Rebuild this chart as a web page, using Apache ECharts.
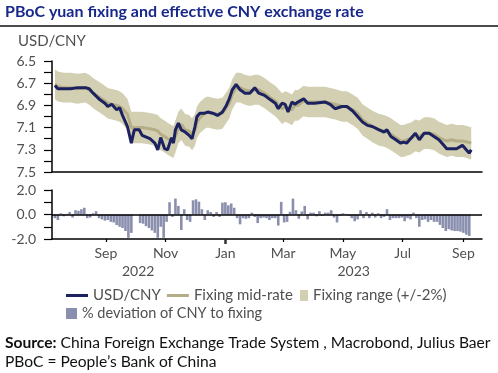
<!DOCTYPE html>
<html>
<head>
<meta charset="utf-8">
<script src="https://cdn.jsdelivr.net/npm/echarts@6/dist/echarts.min.js"></script>
<style>
html,body{margin:0;padding:0;background:#fff;}
#c{width:498px;height:373px;}
</style>
</head>
<body>
<div id="c"></div>
<script>
// ---- data ----
const dates = ['2022-07-11','2022-07-14','2022-07-20','2022-07-27','2022-08-03','2022-08-11','2022-08-15','2022-08-19','2022-08-26','2022-08-31',
'2022-09-03','2022-09-07','2022-09-12','2022-09-15','2022-09-18','2022-09-23','2022-09-27','2022-09-30','2022-10-05','2022-10-08',
'2022-10-16','2022-10-21','2022-10-24','2022-10-27','2022-10-31','2022-11-03','2022-11-07','2022-11-09','2022-11-11','2022-11-14',
'2022-11-17','2022-11-21','2022-11-25','2022-11-28','2022-12-01','2022-12-03','2022-12-06','2022-12-11','2022-12-14','2022-12-19',
'2022-12-24','2022-12-29','2023-01-02','2023-01-05','2023-01-08','2023-01-12','2023-01-16','2023-01-21','2023-01-26','2023-01-31',
'2023-02-04','2023-02-10','2023-02-16','2023-02-21','2023-02-24','2023-02-28','2023-03-03','2023-03-06','2023-03-10','2023-03-13',
'2023-03-16','2023-03-22','2023-03-26','2023-04-02','2023-04-13','2023-04-18','2023-04-23','2023-04-30','2023-05-05','2023-05-11',
'2023-05-16','2023-05-21','2023-05-26','2023-05-31','2023-06-07','2023-06-12','2023-06-15','2023-06-19','2023-06-24','2023-06-29',
'2023-07-02','2023-07-05','2023-07-09','2023-07-14','2023-07-18','2023-07-23','2023-07-28','2023-08-02','2023-08-07','2023-08-12',
'2023-08-15','2023-08-20','2023-08-25','2023-08-31','2023-09-05','2023-09-07','2023-09-09'];

const usdCny = [6.72,6.75,6.75,6.75,6.74,6.74,6.75,6.79,6.85,6.88,
6.91,6.89,6.94,6.92,6.99,7.09,7.24,7.12,7.12,7.17,
7.20,7.24,7.30,7.19,7.29,7.30,7.19,7.24,7.12,7.06,
7.12,7.14,7.17,7.20,7.09,7.00,6.97,6.97,6.96,6.97,
6.99,6.96,6.90,6.84,6.76,6.71,6.76,6.79,6.79,6.74,
6.79,6.81,6.85,6.88,6.93,6.88,6.89,6.96,6.87,6.89,
6.87,6.84,6.88,6.88,6.87,6.89,6.93,6.91,6.91,6.95,
7.00,7.05,7.08,7.09,7.12,7.14,7.12,7.18,7.21,7.24,
7.23,7.24,7.20,7.15,7.21,7.15,7.15,7.18,7.21,7.26,
7.29,7.29,7.29,7.26,7.31,7.33,7.30];

const fixing = [6.71,6.73,6.74,6.74,6.75,6.74,6.76,6.79,6.83,6.86,
6.88,6.89,6.90,6.91,6.93,6.98,7.10,7.10,7.10,7.10,
7.11,7.12,7.13,7.16,7.18,7.20,7.22,7.23,7.18,7.10,
7.07,7.12,7.13,7.16,7.12,7.05,7.01,6.97,6.96,6.97,
6.98,6.97,6.92,6.88,6.80,6.74,6.74,6.76,6.77,6.76,
6.76,6.79,6.83,6.86,6.89,6.93,6.91,6.92,6.94,6.90,
6.90,6.86,6.87,6.87,6.87,6.88,6.89,6.91,6.91,6.94,
6.97,7.03,7.06,7.09,7.12,7.13,7.14,7.16,7.19,7.22,
7.22,7.21,7.20,7.17,7.18,7.15,7.15,7.16,7.19,7.21,
7.22,7.21,7.22,7.22,7.23,7.24,7.24];

const bandPct = 2; // fixing range +/- 2%

// % deviation of CNY to fixing, one value every 3 calendar days from devStart
const devStart = [2022, 6, 11];
const devStepDays = 3;
const deviation = [-0.3,-0.45,0.1,-0.15,0.05,0.2,-0.25,0.35,0.3,0.43,
0.55,-0.3,-0.25,0.1,0.27,-0.3,-0.4,-0.5,-0.45,-0.6,
-0.65,-0.86,-1.0,-1.1,-1.35,-1.9,-1.5,0,0,-0.7,
-0.75,-0.95,-1.1,-1.3,-1.5,-1.9,-1.0,-1.9,-0.6,1.0,
-0.2,1.3,0.7,-1.27,0.43,-0.45,-0.6,1.16,1.24,1.05,
0.43,-0.45,0.35,0.2,-0.2,0.2,-0.2,0.97,1.0,0.75,
0.9,0.55,-0.3,-0.8,-0.3,-0.35,-0.3,0.15,-0.2,-0.7,
-0.3,-0.25,-0.3,-0.45,-0.3,-0.3,-0.9,1.03,-0.65,-0.6,
0.22,1.3,0.35,-0.35,0.25,0.7,-0.4,0.15,0.15,-0.15,
0.27,-0.1,0.15,0.15,0.35,-0.25,-0.65,-0.1,0.1,0.05,
-0.1,-0.3,-0.55,-0.4,0.35,-0.3,0.2,-0.3,0.15,-0.25,
0.1,-0.3,-0.2,0.43,-0.45,-0.3,-0.3,-0.3,-0.25,-0.55,
-0.3,-0.4,0.15,-0.3,-1.0,-0.45,-0.4,-0.6,-0.45,-0.6,
-0.6,-0.85,-1.1,-1.35,-1.2,-1.3,-1.35,-1.35,-1.4,-1.5,
-1.65,-1.75];

const axisStart = '2022-07-08';
const axisEnd = '2023-09-20';
const monthTicks = ['2022-09-01','2022-11-01','2023-01-01','2023-03-01','2023-05-01','2023-07-01','2023-09-01'];
const monthLabels = ['Sep','Nov','Jan','Mar','May','Jul','Sep'];
const yearTicks = ['2022-10-04','2023-05-12'];
const yearLabels = ['2022','2023'];
const yearBreak = ['2023-01-01'];

// ---- build ----
const ts = s => { const p = s.split('-'); return new Date(+p[0], +p[1]-1, +p[2]).getTime(); };
const T = dates.map(ts);
const spotData = dates.map((d,i)=>[T[i], usdCny[i]]);
const fixData = dates.map((d,i)=>[T[i], fixing[i]]);
const devData = deviation.map((v,i)=>[new Date(devStart[0], devStart[1], devStart[2] + i*devStepDays).getTime(), v]);

const NAVY = '#1c2260', OLIVE = '#b5ad85', BAND = '#d3cfb3', BAR = '#8a8fae', TXT = '#505050';
const FONT = 'Lato, "Open Sans", sans-serif';
const monthTs = monthTicks.map(ts);
const yearTs = yearTicks.map(ts);
const X0 = ts(axisStart), X1 = ts(axisEnd);

const lookup = (vals, labels) => v => { for (let k = 0; k < vals.length; k++) { if (Math.abs(vals[k]-v) < 1000) return labels[k]; } return ''; };

function renderBand(params, api) {
  if (params.dataIndex !== 0) return null;
  const pts = [];
  for (let i = 0; i < T.length; i++) pts.push(api.coord([T[i], fixing[i]*(1-bandPct/100)]));
  for (let i = T.length-1; i >= 0; i--) pts.push(api.coord([T[i], fixing[i]*(1+bandPct/100)]));
  return {type:'polygon', shape:{points:pts}, style:{fill:BAND}};
}

const lineIcon = 'path://M0,0H22V3H0Z';

const chart = echarts.init(document.getElementById('c'), null, {renderer:'canvas'});
chart.setOption({
  animation: false,
  textStyle: {fontFamily: FONT},
  grid: [
    {left: 52, right: 16, top: 61, height: 111},
    {left: 52, right: 16, top: 190, height: 49}
  ],
  xAxis: [
    {type:'value', gridIndex:0, min: X0, max: X1, scale:true,
     axisLine:{show:true, onZero:false, lineStyle:{color:'#000', width:1.5}}, axisTick:{show:false}, axisLabel:{show:false}, splitLine:{show:false}},
    {type:'value', gridIndex:1, min: X0, max: X1, scale:true,
     axisLine:{show:true, onZero:false, lineStyle:{color:'#000', width:1.5}},
     axisTick:{show:true, length:3, lineStyle:{color:'#000', width:1.2}, customValues: monthTs},
     axisLabel:{show:true, customValues: monthTs, margin:7, color:TXT, fontSize:14, fontFamily:FONT,
       formatter: lookup(monthTs, monthLabels)},
     splitLine:{show:false}},
    {type:'value', gridIndex:1, min: X0, max: X1, scale:true, position:'bottom',
     axisLine:{show:false, onZero:false}, axisTick:{show:false},
     axisLabel:{show:true, customValues: yearTs, margin:25, color:TXT, fontSize:14, fontFamily:FONT,
       formatter: lookup(yearTs, yearLabels)},
     splitLine:{show:false}},
    {type:'value', gridIndex:1, min: X0, max: X1, scale:true, position:'bottom',
     axisLine:{show:false, onZero:false},
     axisTick:{show:true, length:5, lineStyle:{color:'#333', width:2.5}, customValues: yearBreak.map(ts)},
     axisLabel:{show:false}, splitLine:{show:false}}
  ],
  yAxis: [
    {type:'value', gridIndex:0, inverse:true, min:6.5, max:7.5, interval:0.1,
     axisLine:{show:true, lineStyle:{color:'#000', width:1.5}},
     axisTick:{show:true, length:8, lineStyle:{color:'#000', width:1.2}},
     axisLabel:{margin:16, color:TXT, fontSize:14, fontFamily:FONT,
       formatter: v => (Math.round(v*10) % 2 === 1) ? v.toFixed(1) : ''},
     splitLine:{show:false}},
    {type:'value', gridIndex:1, min:-2, max:2, interval:1,
     axisLine:{show:true, lineStyle:{color:'#000', width:1.5}},
     axisTick:{show:true, length:8, lineStyle:{color:'#000', width:1.2}},
     axisLabel:{margin:16, color:TXT, fontSize:14, fontFamily:FONT,
       formatter: v => (Math.round(v) % 2 === 0) ? v.toFixed(1) : ''},
     splitLine:{show:false}}
  ],
  legend: [
    {data:[{name:'USD/CNY', icon:lineIcon},{name:'Fixing mid-rate', icon:lineIcon}], left:61, top:283, itemWidth:22, itemHeight:11, itemGap:6,
     textStyle:{color:TXT, fontSize:15, fontFamily:FONT}, selectedMode:false},
    {data:[{name:'Fixing range (+/-2%)', icon:'rect'}], left:295, top:283, itemWidth:8, itemHeight:11,
     textStyle:{color:TXT, fontSize:15, fontFamily:FONT}, selectedMode:false},
    {data:[{name:'% deviation of CNY to fixing', icon:'rect'}], left:61, top:301, itemWidth:11, itemHeight:11,
     textStyle:{color:TXT, fontSize:14.5, fontFamily:FONT}, selectedMode:false}
  ],
  series: [
    {name:'Fixing range (+/-2%)', type:'custom', xAxisIndex:0, yAxisIndex:0, data:fixData,
     renderItem: renderBand, itemStyle:{color:BAND}, silent:true, z:1},
    {name:'Fixing mid-rate', type:'line', xAxisIndex:0, yAxisIndex:0, data:fixData,
     symbol:'none', lineStyle:{color:OLIVE, width:3}, itemStyle:{color:OLIVE}, z:2},
    {name:'USD/CNY', type:'line', xAxisIndex:0, yAxisIndex:0, data:spotData,
     symbol:'none', lineStyle:{color:NAVY, width:3}, itemStyle:{color:NAVY}, z:3},
    {name:'% deviation of CNY to fixing', type:'bar', xAxisIndex:1, yAxisIndex:1, data:devData,
     barWidth:2.6, itemStyle:{color:BAR},
     markLine:{silent:true, symbol:['none','none'], label:{show:false},
       lineStyle:{color:'#000', width:1.5, type:'solid'}, data:[{yAxis:0}]}}
  ],
  graphic: [
    {type:'text', left:5, top:4, style:{text:'PBoC yuan fixing and effective CNY exchange rate',
      font:'bold 16px ' + FONT, fill:'#18288a'}},
    {type:'line', shape:{x1:0, y1:26, x2:498, y2:26}, style:{stroke:'#111', lineWidth:1.5}},
    {type:'text', left:18, top:34, style:{text:'USD/CNY', font:'15px ' + FONT, fill:TXT}},
    {type:'text', left:5, top:335, style:{text:'{b|Source:} China Foreign Exchange Trade System , Macrobond, Julius Baer',
      font:'15.6px ' + FONT, fill:'#111', rich:{b:{fontWeight:'bold', fontSize:15.6, fontFamily:FONT, fill:'#111'}}}},
    {type:'text', left:5, top:354, style:{text:'PBoC = People\u2019s Bank of China', font:'15.6px ' + FONT, fill:'#111'}}
  ]
});
</script>
</body>
</html>
